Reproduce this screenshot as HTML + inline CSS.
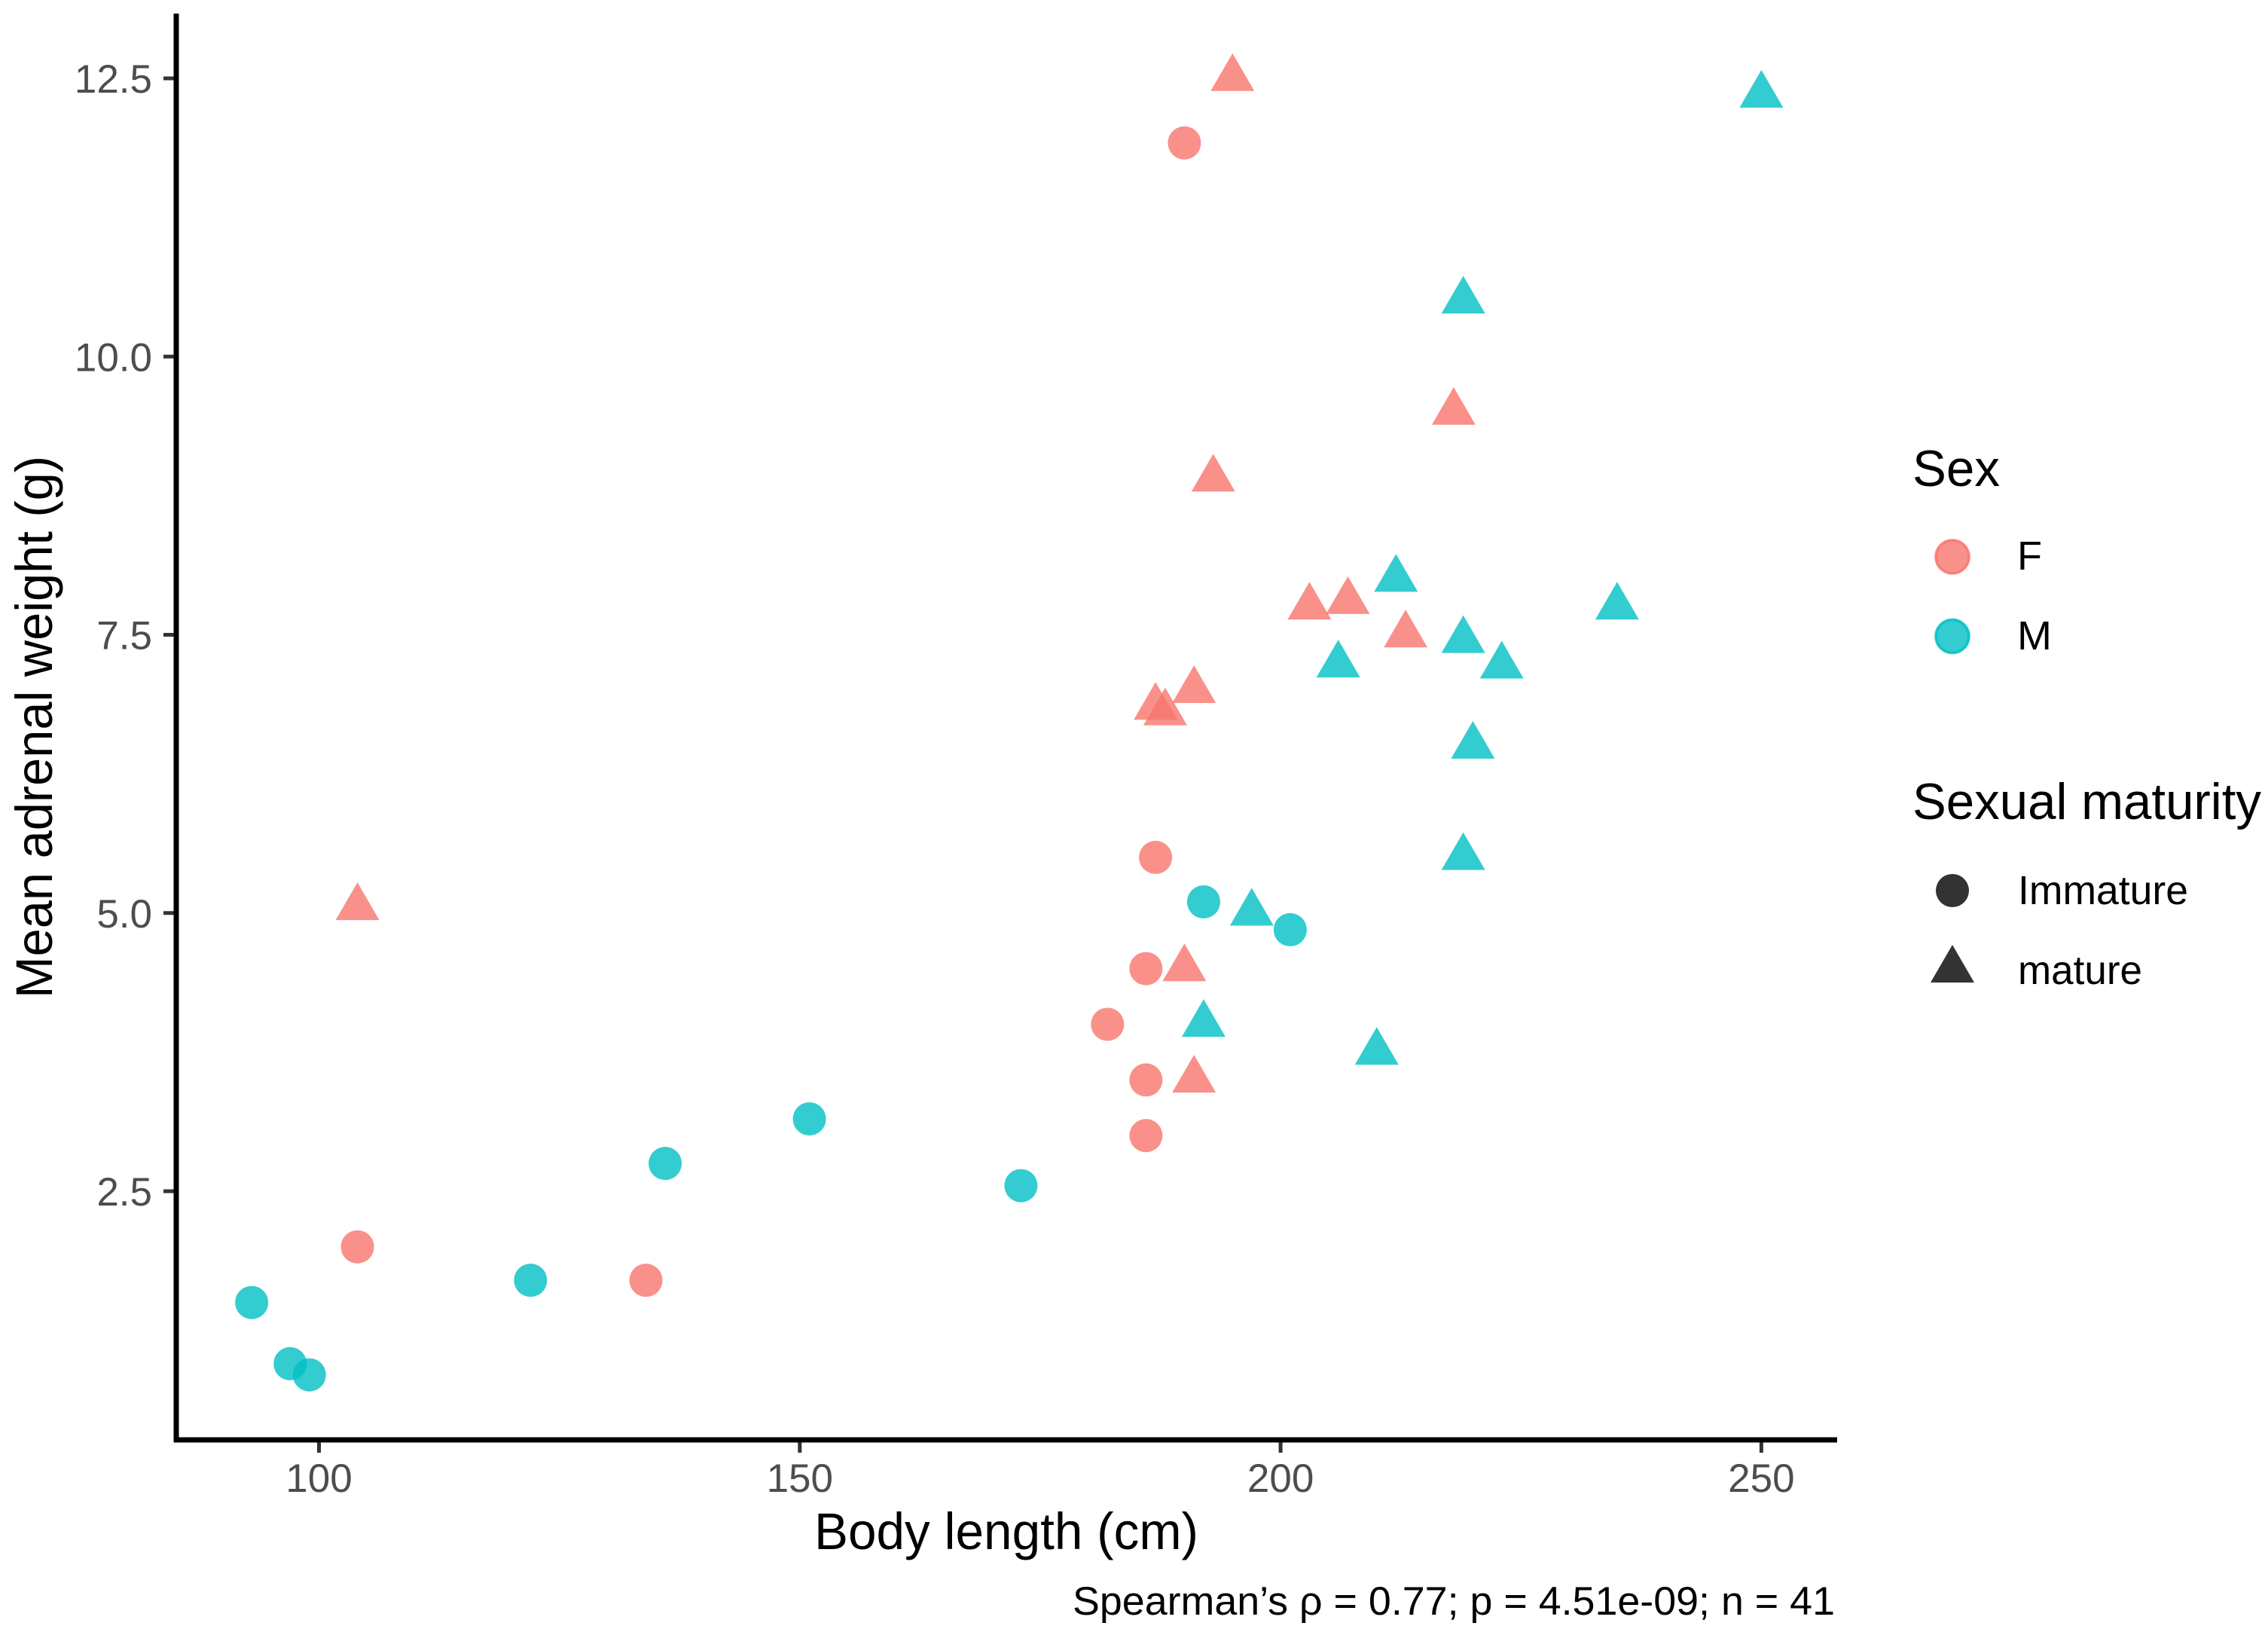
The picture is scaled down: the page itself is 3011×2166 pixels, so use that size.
<!DOCTYPE html>
<html lang="en">
<head>
<meta charset="utf-8">
<title>Mean adrenal weight vs body length</title>
<style>
html,body{margin:0;padding:0;background:#fff;}
svg{display:block;font-family:"Liberation Sans",sans-serif;}
</style>
</head>
<body>
<svg id="chart" xmlns="http://www.w3.org/2000/svg" width="3011" height="2166" viewBox="0 0 3011 2166">
<rect width="3011" height="2166" fill="#fff"/>
<g id="marks"></g>
<g id="ticks"></g>
<line x1="234" y1="18" x2="234" y2="1914" stroke="#000" stroke-width="7"/>
<line x1="231" y1="1911" x2="2439" y2="1911" stroke="#000" stroke-width="7"/>
<text x="1081" y="2056" font-size="69" textLength="510" lengthAdjust="spacingAndGlyphs" fill="#000">Body length (cm)</text>
<text transform="translate(69,1325) rotate(-90)" font-size="69" textLength="720" lengthAdjust="spacingAndGlyphs" fill="#000">Mean adrenal weight (g)</text>
<text x="1424" y="2143" font-size="53" textLength="1012" lengthAdjust="spacingAndGlyphs" fill="#000">Spearman’s ρ = 0.77; p = 4.51e-09; n = 41</text>
<g>
<text x="2539" y="645" font-size="68" textLength="116" lengthAdjust="spacingAndGlyphs" fill="#000">Sex</text>
<circle cx="2592" cy="739" r="22" fill="#F8766D" fill-opacity="0.8" stroke="#F8766D" stroke-opacity="0.85" stroke-width="3.5"/>
<text x="2678" y="756" font-size="54" fill="#000">F</text>
<circle cx="2592" cy="844.5" r="22" fill="#00BFC4" fill-opacity="0.8" stroke="#00BFC4" stroke-opacity="0.85" stroke-width="3.5"/>
<text x="2678" y="862" font-size="54" textLength="46" lengthAdjust="spacingAndGlyphs" fill="#000">M</text>
</g>
<g>
<text x="2539" y="1087" font-size="68" textLength="463" lengthAdjust="spacingAndGlyphs" fill="#000">Sexual maturity</text>
<circle cx="2592" cy="1182" r="22" fill="#333"/>
<text x="2679" y="1200" font-size="54" textLength="226" lengthAdjust="spacingAndGlyphs" fill="#000">Immature</text>
<polygon points="2592,1254 2621,1304 2563,1304" fill="#333"/>
<text x="2679" y="1306" font-size="54" textLength="165" lengthAdjust="spacingAndGlyphs" fill="#000">mature</text>
</g>
</svg>
<script>
const xTicks = [100, 150, 200, 250];
const yTicks = [2.5, 5.0, 7.5, 10.0, 12.5];
const yTickLabels = ["2.5", "5.0", "7.5", "10.0", "12.5"];

const femaleImmatureX = [190, 187, 186, 182, 186, 186, 104, 134];
const femaleImmatureY = [11.92, 5.5, 4.5, 4.0, 3.5, 3.0, 2.0, 1.7];
const femaleMatureX = [195, 218, 193, 203, 207, 213, 191, 187, 188, 190, 191, 104];
const femaleMatureY = [12.5, 9.5, 8.9, 7.75, 7.8, 7.5, 7.0, 6.85, 6.8, 4.5, 3.5, 5.05];
const maleImmatureX = [93, 97, 99, 122, 136, 151, 173, 192, 201];
const maleImmatureY = [1.5, 0.95, 0.85, 1.7, 2.75, 3.15, 2.55, 5.1, 4.85];
const maleMatureX = [250, 219, 212, 235, 219, 223, 206, 220, 219, 197, 192, 210];
const maleMatureY = [12.35, 10.5, 8.0, 7.75, 7.45, 7.22, 7.23, 6.5, 5.5, 5.0, 4.0, 3.75];

const NS = "http://www.w3.org/2000/svg";
const FEMALE = "#F8766D";
const MALE = "#00BFC4";
function xPos(v) { return 423.5 + (v - 100) * 12.766; }
function yPos(v) { return 104 + (12.5 - v) * 147.7; }

const marks = document.getElementById("marks");
const ticks = document.getElementById("ticks");

function drawCircles(xs, ys, color) {
  xs.forEach(function (x, i) {
    const el = document.createElementNS(NS, "circle");
    el.setAttribute("cx", xPos(x));
    el.setAttribute("cy", yPos(ys[i]));
    el.setAttribute("r", 22);
    el.setAttribute("fill", color);
    el.setAttribute("fill-opacity", 0.8);
    
    
    marks.appendChild(el);
  });
}
function drawTriangles(xs, ys, color) {
  xs.forEach(function (x, i) {
    const cx = xPos(x);
    const cy = yPos(ys[i]);
    const el = document.createElementNS(NS, "polygon");
    el.setAttribute("points", cx + "," + (cy - 33.3) + " " + (cx + 29) + "," + (cy + 16.7) + " " + (cx - 29) + "," + (cy + 16.7));
    el.setAttribute("fill", color);
    el.setAttribute("fill-opacity", 0.8);
    
    
    marks.appendChild(el);
  });
}
drawCircles(femaleImmatureX, femaleImmatureY, FEMALE);
drawTriangles(femaleMatureX, femaleMatureY, FEMALE);
drawCircles(maleImmatureX, maleImmatureY, MALE);
drawTriangles(maleMatureX, maleMatureY, MALE);

xTicks.forEach(function (v) {
  const line = document.createElementNS(NS, "line");
  line.setAttribute("x1", xPos(v));
  line.setAttribute("x2", xPos(v));
  line.setAttribute("y1", 1911);
  line.setAttribute("y2", 1928);
  line.setAttribute("stroke", "#333");
  line.setAttribute("stroke-width", 5);
  
  
  ticks.appendChild(line);
  const label = document.createElementNS(NS, "text");
  label.setAttribute("x", xPos(v));
  label.setAttribute("y", 1980);
  label.setAttribute("text-anchor", "middle");
  label.setAttribute("font-size", 53);
  label.setAttribute("fill", "#4d4d4d");
  
  
  label.textContent = String(v);
  ticks.appendChild(label);
});
yTicks.forEach(function (v, i) {
  const line = document.createElementNS(NS, "line");
  line.setAttribute("x1", 217);
  line.setAttribute("x2", 234);
  line.setAttribute("y1", yPos(v));
  line.setAttribute("y2", yPos(v));
  line.setAttribute("stroke", "#333");
  line.setAttribute("stroke-width", 5);
  
  
  ticks.appendChild(line);
  const label = document.createElementNS(NS, "text");
  label.setAttribute("x", 202);
  label.setAttribute("y", yPos(v) + 19);
  label.setAttribute("text-anchor", "end");
  label.setAttribute("font-size", 53);
  label.setAttribute("fill", "#4d4d4d");
  
  
  label.textContent = yTickLabels[i];
  ticks.appendChild(label);
});
</script>
</body>
</html>
